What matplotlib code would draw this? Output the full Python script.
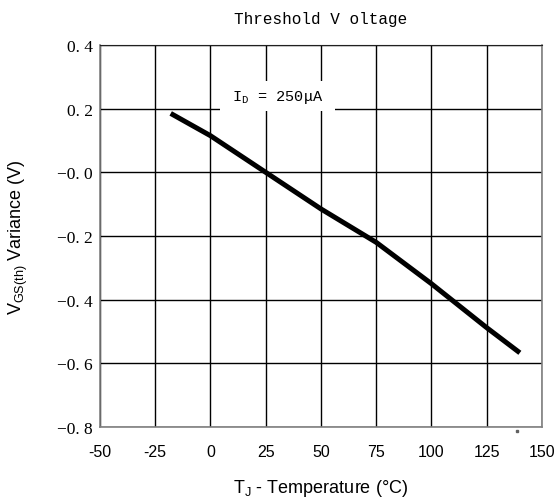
import matplotlib
matplotlib.use("Agg")
import matplotlib.pyplot as plt
from matplotlib.patches import Rectangle

# threshold voltage drift vs junction temperature
temp = [-18, 0, 25, 50, 75, 100, 125, 140]
vgs_var = [0.185, 0.115, 0.0, -0.115, -0.22, -0.35, -0.488, -0.567]

x_ticks = [-50, -25, 0, 25, 50, 75, 100, 125, 150]
y_ticks = [0.4, 0.2, 0.0, -0.2, -0.4, -0.6, -0.8]
y_tick_labels = ["0. 4", "0. 2", "\u22120. 0", "\u22120. 2", "\u22120. 4", "\u22120. 6", "\u22120. 8"]

plt.rcParams['mathtext.fontset'] = 'custom'
plt.rcParams['mathtext.rm'] = 'Liberation Sans'
plt.rcParams['mathtext.it'] = 'Liberation Sans'
plt.rcParams['mathtext.tt'] = 'Liberation Mono'

fig = plt.figure(figsize=(5.57, 5.02), dpi=100)
ax = fig.add_axes([0.1795, 0.1474, 0.7935, 0.761])

ax.plot(temp, vgs_var, color='black', lw=3.6, solid_capstyle='butt', zorder=3)

ax.set_xlim(-50, 150)
ax.set_ylim(-0.8, 0.4)
ax.set_xticks(x_ticks)
ax.set_xticklabels([str(t) for t in x_ticks], family='Liberation Sans', fontsize=11.5)
ax.set_yticks(y_ticks)
ax.set_yticklabels(y_tick_labels, family='Liberation Serif', fontsize=12.5)
ax.tick_params(length=0)
ax.tick_params(axis='y', pad=5)
ax.tick_params(axis='x', pad=12)
ax.grid(True, color='black', lw=1.0)
ax.set_axisbelow(True)

for side in ['left', 'bottom', 'right']:
    ax.spines[side].set_color('#808080')
    ax.spines[side].set_linewidth(1.2)
ax.spines['top'].set_color('#202020')

# label box sitting over the grid
ax.add_patch(Rectangle((4.5, 0.192), 52, 0.094, facecolor='white',
                       edgecolor='none', zorder=2))
ax.text(30.5, 0.237, r'$\mathtt{I_D}$ = 250μA', family='Liberation Mono',
        fontsize=11, ha='center', va='center', zorder=4)

ax.plot([138.7], [-0.8126], marker='s', ms=1.5, color='#606060', clip_on=False)

ax.set_title('Threshold V oltage', family='Liberation Mono', fontsize=11.5, pad=16)
ax.set_xlabel(r'T$_\mathregular{J}$ - Temperature (°C)', family='Liberation Sans',
              fontsize=13, labelpad=13)
ax.set_ylabel(r'V$_\mathregular{GS(th)}$ Variance (V)', family='Liberation Sans',
              fontsize=13, labelpad=20)

fig.savefig('out.png', dpi=100)
